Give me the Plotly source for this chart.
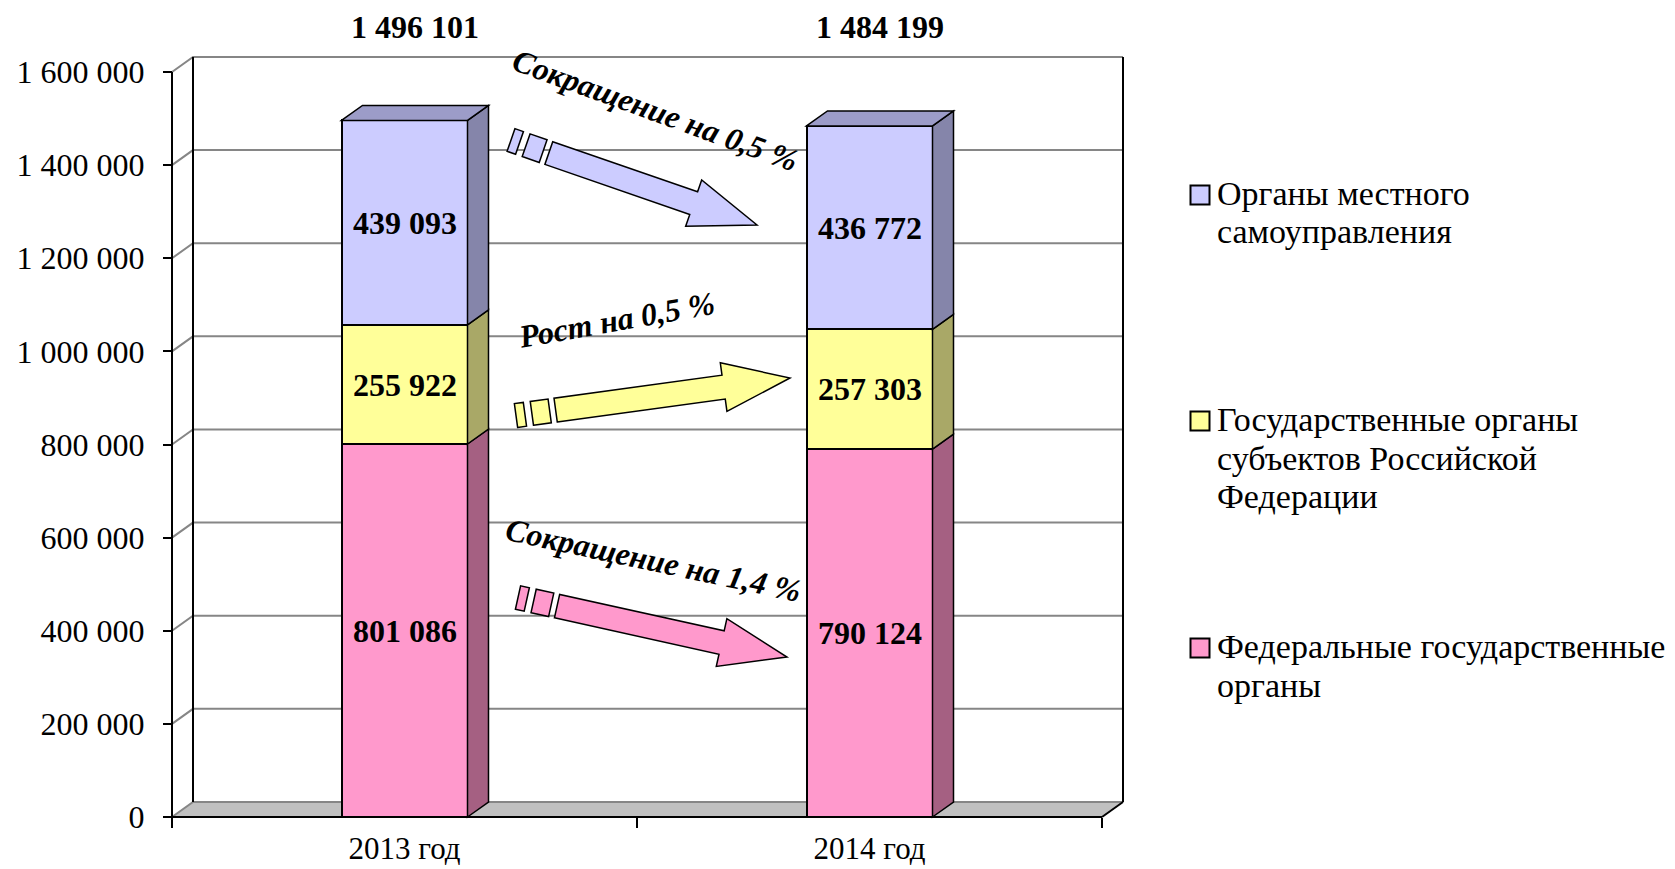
import math
import plotly.graph_objects as go

# ---------------- data ----------------
categories = ["2013 год", "2014 год"]
federal = [801086, 790124]      # Федеральные государственные органы
regional = [255922, 257303]     # Государственные органы субъектов РФ
local = [439093, 436772]        # Органы местного самоуправления
legend_labels = [
    "Федеральные государственные<br>органы",
    "Государственные органы<br>субъектов Российской<br>Федерации",
    "Органы местного<br>самоуправления",
]
y_ticks = [0, 200000, 400000, 600000, 800000, 1000000, 1200000, 1400000, 1600000]

series_values = [federal, regional, local]

# ---------------- styles ----------------
FONT = "Liberation Serif, Times New Roman, serif"
front_colors = ["#FF99CC", "#FFFF99", "#CCCCFF"]
side_colors = ["#A56082", "#A9A867", "#8585AA"]
top_color = "#9C9CC8"
GRID = "#868686"

FIG_W, FIG_H = 1675, 869
FRONT_L, FRONT_R = 172, 1102     # pixel x of the front plane edges
FRONT_B, FRONT_T = 817, 72       # pixel y of value 0 / top tick on front plane
DEPTH_X, DEPTH_Y = 21, 15        # 3-D depth offset in pixels
PAD = 4
BAR_PX = 126

n = len(categories)
Y_TOP = y_ticks[-1]
px_per_x = (FRONT_R - FRONT_L) / n
px_per_y = (FRONT_B - FRONT_T) / Y_TOP
ddx = DEPTH_X / px_per_x
ddy = DEPTH_Y / px_per_y
BW = BAR_PX / px_per_x

PL = FRONT_L - PAD
PR = FRONT_R + DEPTH_X + PAD
PB = FRONT_B + PAD
PT = FRONT_T - DEPTH_Y - PAD
x_range = [-0.5 - PAD / px_per_x, n - 0.5 + ddx + PAD / px_per_x]
y_range = [-PAD / px_per_y, Y_TOP + ddy + PAD / px_per_y]


def xpap(px):
    return (px - PL) / (PR - PL)


def ypap(py):
    return (PB - py) / (PB - PT)


def path(points, close=True):
    s = "M " + " L ".join(f"{x:.6f},{y:.6f}" for x, y in points)
    return s + (" Z" if close else "")


fig = go.Figure()

# ---------------- bars (front faces) ----------------
for vals, col, name in zip(series_values, front_colors, legend_labels):
    fig.add_trace(go.Bar(
        x=categories, y=vals, width=BW, name=name.replace("<br>", " "),
        marker=dict(color=col, line=dict(color="black", width=2)),
        texttemplate="<b>%{y:,}</b>", textposition="inside",
        insidetextanchor="middle", textangle=0,
        textfont=dict(family=FONT, size=32, color="black"),
        showlegend=False, hoverinfo="skip",
    ))

shapes = []
# floor
x0f, x1f = -0.5, n - 0.5
shapes.append(dict(type="path", layer="below", xref="x", yref="y",
                   path=path([(x0f, 0), (x1f, 0), (x1f + ddx, ddy), (x0f + ddx, ddy)]),
                   fillcolor="#C0C0C0", line=dict(width=0)))
# gridlines on side wall and back wall
for v in y_ticks:
    shapes.append(dict(type="path", layer="below", xref="x", yref="y",
                       path=path([(x0f, v), (x0f + ddx, v + ddy), (x1f + ddx, v + ddy)], close=False),
                       line=dict(color=GRID, width=2)))
# walls' black edges
edge = dict(color="black", width=2)
shapes.append(dict(type="line", layer="below", xref="x", yref="y",
                   x0=x0f + ddx, y0=ddy, x1=x0f + ddx, y1=Y_TOP + ddy, line=edge))
shapes.append(dict(type="line", layer="below", xref="x", yref="y",
                   x0=x1f + ddx, y0=ddy, x1=x1f + ddx, y1=Y_TOP + ddy, line=edge))
shapes.append(dict(type="line", layer="below", xref="x", yref="y",
                   x0=x1f, y0=0, x1=x1f + ddx, y1=ddy, line=edge))
shapes.append(dict(type="line", layer="below", xref="x", yref="y",
                   x0=x0f, y0=0, x1=x0f, y1=Y_TOP, line=edge))
shapes.append(dict(type="line", layer="below", xref="x", yref="y",
                   x0=x0f, y0=0, x1=x1f, y1=0, line=edge))

# bar side faces and top face
for i in range(n):
    base = 0
    xr = i + BW / 2
    xl = i - BW / 2
    for k, vals in enumerate(series_values):
        y0, y1 = base, base + vals[i]
        shapes.append(dict(type="path", xref="x", yref="y",
                           path=path([(xr, y0), (xr + ddx, y0 + ddy), (xr + ddx, y1 + ddy), (xr, y1)]),
                           fillcolor=side_colors[k], line=dict(color="black", width=1.5)))
        base = y1
    shapes.append(dict(type="path", xref="x", yref="y",
                       path=path([(xl, base), (xl + ddx, base + ddy), (xr + ddx, base + ddy), (xr, base)]),
                       fillcolor=top_color, line=dict(color="black", width=1.5)))

# ---------------- decorative block arrows (pixel geometry) ----------------
ARROWS_PX = [(518, 597.5, 787, 657), (516, 415.5, 790, 378), (511, 140, 757, 225)]
LABELS_PX = [(653, 560, 12), (616, 320, -10), (655, 110, 20)]
W_SHAFT, W_HEAD, L_HEAD = 12, 24.5, 67
PIECES = [(0, 9), (16, 34)]
SHAFT0 = 40


def to_paper(pts):
    return [(xpap(x), ypap(y)) for x, y in pts]


for k, (sx, sy, tx, ty) in enumerate(ARROWS_PX):
    L = math.hypot(tx - sx, ty - sy)
    ux, uy = (tx - sx) / L, (ty - sy) / L
    nx, ny = -uy, ux

    def P(s, w):
        return (sx + ux * s + nx * w, sy + uy * s + ny * w)

    for a, b in PIECES:
        shapes.append(dict(type="path", xref="paper", yref="paper",
                           path=path(to_paper([P(a, W_SHAFT), P(b, W_SHAFT), P(b, -W_SHAFT), P(a, -W_SHAFT)])),
                           fillcolor=front_colors[k], line=dict(color="black", width=1.5)))
    hb = L - L_HEAD
    poly = [P(SHAFT0, W_SHAFT), P(hb, W_SHAFT), P(hb, W_HEAD), (tx, ty),
            P(hb, -W_HEAD), P(hb, -W_SHAFT), P(SHAFT0, -W_SHAFT)]
    shapes.append(dict(type="path", xref="paper", yref="paper",
                       path=path(to_paper(poly)),
                       fillcolor=front_colors[k], line=dict(color="black", width=1.5)))

annotations = []
# change labels computed from the data
for k, vals in enumerate(series_values):
    pct = (vals[1] - vals[0]) / vals[0] * 100
    word = "Рост" if pct > 0 else "Сокращение"
    txt = f"{word} на {abs(pct):.1f}".replace(".", ",") + " %"
    cx, cy, ang = LABELS_PX[k]
    annotations.append(dict(x=xpap(cx), y=ypap(cy), xref="paper", yref="paper",
                            text=f"<b><i>{txt}</i></b>", showarrow=False, textangle=ang,
                            xanchor="center", yanchor="middle",
                            font=dict(family=FONT, size=32, color="black")))

# totals above bars
for i in range(n):
    total = sum(v[i] for v in series_values)
    annotations.append(dict(x=i + ddx / 2, y=ypap(27), xref="x", yref="paper",
                            text="<b>" + f"{total:,}".replace(",", " ") + "</b>",
                            showarrow=False, xanchor="center", yanchor="middle",
                            font=dict(family=FONT, size=32, color="black")))

# ---------------- legend (manual) ----------------
LEG_Y = [648, 421, 195]
LEG_LINE_H = 38.5
SQ = 19
for k in range(len(series_values)):
    cy = LEG_Y[k]
    shapes.append(dict(type="rect", xref="paper", yref="paper",
                       x0=xpap(1200 - SQ / 2), x1=xpap(1200 + SQ / 2),
                       y0=ypap(cy + SQ / 2), y1=ypap(cy - SQ / 2),
                       fillcolor=front_colors[k], line=dict(color="black", width=2)))
    for j, line in enumerate(legend_labels[k].split("<br>")):
        annotations.append(dict(x=xpap(1215), y=ypap(cy - 1.5 + j * LEG_LINE_H),
                                xref="paper", yref="paper",
                                text=line, showarrow=False, align="left",
                                xanchor="left", yanchor="middle",
                                font=dict(family=FONT, size=34, color="black")))

fig.update_layout(
    width=FIG_W, height=FIG_H,
    margin=dict(l=PL, r=FIG_W - PR, t=PT, b=FIG_H - PB, pad=0, autoexpand=False),
    barmode="stack", bargap=0,
    separators=", ",
    paper_bgcolor="white", plot_bgcolor="rgba(0,0,0,0)",
    showlegend=False,
    shapes=shapes, annotations=annotations,
    xaxis=dict(type="category", categoryorder="array", categoryarray=categories,
               range=x_range, tickson="boundaries", ticks="outside", ticklen=10,
               tickwidth=1.5, tickcolor="black", showgrid=False, zeroline=False,
               showline=False, anchor="free", position=ypap(FRONT_B),
               ticklabelstandoff=10, automargin=False,
               tickfont=dict(family=FONT, size=31, color="black")),
    yaxis=dict(range=y_range, tickvals=y_ticks, tickformat=",", ticks="outside",
               ticklen=9, tickwidth=1.5, tickcolor="black", showgrid=False,
               zeroline=False, showline=False, anchor="free", position=xpap(FRONT_L),
               ticklabelstandoff=12, automargin=False,
               tickfont=dict(family=FONT, size=32, color="black")),
)

fig.write_html("out.html", config={"displayModeBar": False},
               post_script="document.body.style.margin='0';document.body.style.overflow='hidden';")
